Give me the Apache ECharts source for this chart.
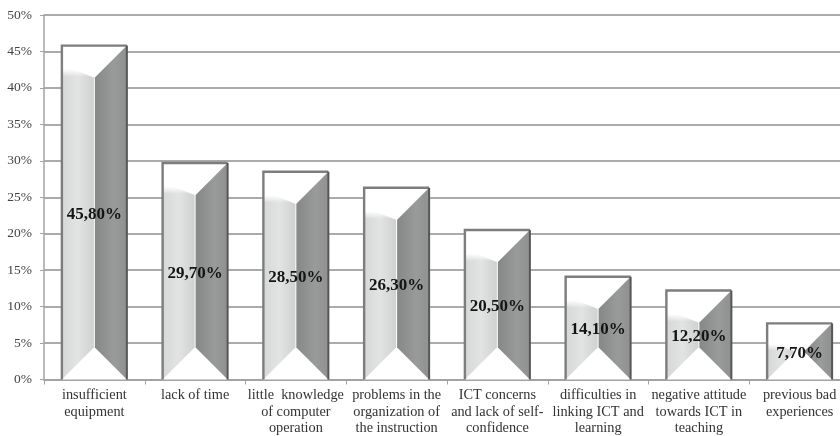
<!DOCTYPE html>
<html>
<head>
<meta charset="utf-8">
<style>html,body{margin:0;padding:0;background:#fff}#c{width:840px;height:436px;overflow:hidden}</style>
<script src="https://cdn.jsdelivr.net/npm/echarts@6/dist/echarts.min.js"></script>
</head>
<body>
<div id="c"></div>
<script>
const categories = [
  'insufficient\nequipment',
  'lack of time',
  'little  knowledge\nof computer\noperation',
  'problems in the\norganization of\nthe instruction',
  'ICT concerns\nand lack of self-\nconfidence',
  'difficulties in\nlinking ICT and\nlearning',
  'negative attitude\ntowards ICT in\nteaching',
  'previous bad\nexperiences'
];
const values = [45.8, 29.7, 28.5, 26.3, 20.5, 14.1, 12.2, 7.7];
const yMin = 0, yMax = 50, yStep = 5;

const font = '"Liberation Serif", serif';
const chart = echarts.init(document.getElementById('c'), null, {renderer: 'canvas'});

function renderBar(params, api) {
  const idx = api.value(0), val = api.value(1);
  const topPt = api.coord([idx, val]);
  const botPt = api.coord([idx, 0]);
  const w = api.size([1, 0])[0] * 0.645;
  const l = topPt[0] - w / 2, r = topPt[0] + w / 2;
  const t = topPt[1], b = botPt[1], h = b - t;
  const bev = Math.min(32, h / 2);
  const il = Math.min(l + bev, topPt[0]), ir = Math.max(r - bev, topPt[0]);
  const lightGrad = new echarts.graphic.LinearGradient(0, 0, 1, 0, [
    {offset: 0, color: '#d6d8d7'}, {offset: 0.5, color: '#e2e4e3'}, {offset: 1, color: '#cfd1d0'}
  ]);
  const darkGrad = new echarts.graphic.LinearGradient(0, 0, 1, 0, [
    {offset: 0, color: '#868887'}, {offset: 0.6, color: '#999b9a'}, {offset: 1, color: '#8f9190'}
  ]);
  const fade = new echarts.graphic.LinearGradient(0, 0, 0, 1, [
    {offset: 0, color: 'rgba(255,255,255,1)'},
    {offset: 0.72, color: 'rgba(255,255,255,1)'},
    {offset: 0.95, color: 'rgba(255,255,255,0)'},
    {offset: 1, color: 'rgba(255,255,255,0)'}
  ]);
  const text = val.toFixed(2).replace('.', ',') + '%';
  return {
    type: 'group',
    children: [
      {type: 'rect', shape: {x: l, y: t, width: w, height: h}, style: {fill: '#fff'}},
      {type: 'polygon', shape: {points: [[l, b], [il, b - bev], [il, t + bev], [l, t + bev * 0.6]]}, style: {fill: lightGrad}},
      {type: 'polygon', shape: {points: [[l, t], [il + 1, t], [il + 1, t + bev * 1.02], [l, t + bev]]}, style: {fill: fade}},
      {type: 'polygon', shape: {points: [[r, b], [ir, b - bev], [ir, t + bev], [r, t]]}, style: {fill: darkGrad}},
      {type: 'polyline', shape: {points: [[l, b], [l, t], [r, t]]}, style: {stroke: '#7d7d7d', lineWidth: 2.4, fill: 'none'}},
      {type: 'line', shape: {x1: r, y1: t, x2: r, y2: b}, style: {stroke: '#565656', lineWidth: 2}},
      {type: 'text', x: topPt[0], y: (t + b) / 2 + 2, style: {
        text: text, align: 'center', verticalAlign: 'middle',
        font: 'bold 17px ' + font, fill: '#141414'
      }}
    ]
  };
}

chart.setOption({
  animation: false,
  backgroundColor: '#fff',
  grid: {left: 44, width: 806, top: 15, height: 364.5, containLabel: false, outerBoundsMode: 'none'},
  xAxis: {
    type: 'category',
    data: categories,
    boundaryGap: true,
    axisLine: {show: true, onZero: false, lineStyle: {color: '#a3a3a3', width: 2}},
    axisTick: {show: true, alignWithLabel: false, length: 5, lineStyle: {color: '#a3a3a3', width: 1}},
    axisLabel: {
      interval: 0, margin: 8, color: '#333', fontFamily: font, fontSize: 14.3, lineHeight: 16.2,
      align: 'center', verticalAlign: 'top', hideOverlap: false
    }
  },
  yAxis: {
    type: 'value',
    min: yMin, max: yMax, interval: yStep,
    axisLine: {show: true, lineStyle: {color: '#a3a3a3', width: 1.5}},
    axisTick: {show: true, length: 4, lineStyle: {color: '#a3a3a3', width: 1}},
    splitLine: {show: true, lineStyle: {color: '#ababab', width: 2}},
    axisLabel: {formatter: '{value}%', margin: 12, color: '#444', fontFamily: font, fontSize: 13.5}
  },
  series: [{
    type: 'custom',
    renderItem: renderBar,
    clip: false,
    encode: {x: 0, y: 1},
    data: values.map((v, i) => [i, v])
  }]
});
</script>
</body>
</html>
